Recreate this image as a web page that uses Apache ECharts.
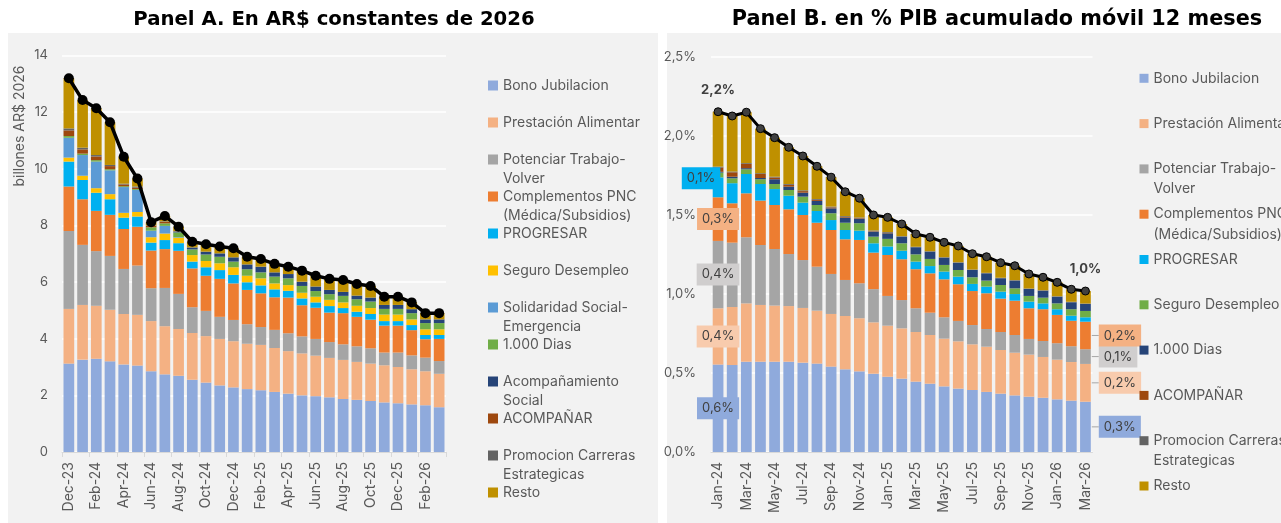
<!DOCTYPE html>
<html><head><meta charset="utf-8">
<script src="https://cdn.jsdelivr.net/npm/echarts@6/dist/echarts.min.js"></script>
<style>html,body{margin:0;padding:0;background:#fff;}#c{width:1281px;height:523px;}</style>
</head><body><div id="c"></div>
<script>
// ---------- Categories ----------
const monthsA = ['Dec-23','Jan-24','Feb-24','Mar-24','Apr-24','May-24','Jun-24','Jul-24','Aug-24','Sep-24','Oct-24','Nov-24','Dec-24','Jan-25','Feb-25','Mar-25','Apr-25','May-25','Jun-25','Jul-25','Aug-25','Sep-25','Oct-25','Nov-25','Dec-25','Jan-26','Feb-26','Mar-26'];
const monthsB = ['Jan-24','Feb-24','Mar-24','Apr-24','May-24','Jun-24','Jul-24','Aug-24','Sep-24','Oct-24','Nov-24','Dec-24','Jan-25','Feb-25','Mar-25','Apr-25','May-25','Jun-25','Jul-25','Aug-25','Sep-25','Oct-25','Nov-25','Dec-25','Jan-26','Feb-26','Mar-26'];

// ---------- Panel A (billones AR$ 2026) ----------
const bonoA   = [3.12,3.26,3.29,3.20,3.09,3.05,2.85,2.74,2.69,2.55,2.45,2.35,2.28,2.22,2.18,2.12,2.06,2.00,1.97,1.93,1.87,1.84,1.80,1.75,1.72,1.68,1.65,1.58];
const prestA  = [1.93,1.93,1.87,1.82,1.78,1.79,1.77,1.70,1.65,1.65,1.64,1.64,1.63,1.60,1.60,1.55,1.50,1.48,1.43,1.39,1.38,1.34,1.32,1.31,1.28,1.24,1.20,1.18];
const potA    = [2.75,2.12,1.93,1.90,1.59,1.74,1.16,1.35,1.24,0.91,0.89,0.78,0.75,0.69,0.63,0.64,0.63,0.60,0.59,0.56,0.55,0.55,0.54,0.45,0.51,0.49,0.48,0.45];
const compA   = [1.57,1.61,1.42,1.45,1.41,1.37,1.33,1.37,1.52,1.37,1.24,1.34,1.29,1.21,1.19,1.15,1.26,1.10,1.10,1.04,1.10,1.04,1.01,0.95,0.95,0.89,0.65,0.78];
const progA   = [0.88,0.68,0.64,0.55,0.40,0.36,0.28,0.32,0.27,0.24,0.30,0.31,0.30,0.27,0.28,0.28,0.24,0.24,0.19,0.23,0.18,0.18,0.20,0.16,0.16,0.18,0.15,0.14];
const seguroA = [0.14,0.15,0.16,0.18,0.17,0.16,0.19,0.23,0.19,0.23,0.22,0.24,0.27,0.23,0.25,0.21,0.20,0.20,0.20,0.22,0.20,0.21,0.21,0.23,0.23,0.20,0.20,0.20];
const solidA  = [0.70,0.73,0.94,0.84,0.91,0.78,0.23,0.27,0.02,0,0,0,0,0,0,0,0,0,0,0,0,0,0,0,0,0,0,0];
const diasA   = [0.06,0.05,0.05,0.04,0.03,0.03,0.12,0.09,0.17,0.20,0.23,0.23,0.20,0.23,0.21,0.24,0.24,0.24,0.20,0.20,0.23,0.23,0.23,0.20,0.20,0.22,0.22,0.22];
const acSocA  = [0,0,0,0,0,0,0,0,0.02,0.07,0.10,0.12,0.15,0.17,0.20,0.15,0.15,0.15,0.16,0.15,0.14,0.13,0.14,0.14,0.14,0.14,0.13,0.13];
const acompA  = [0.20,0.15,0.13,0.11,0.06,0.05,0.05,0.05,0.01,0,0,0,0,0,0,0,0,0,0,0,0,0,0,0,0,0,0,0];
const promoA  = [0.07,0.06,0.05,0.04,0.03,0.04,0.02,0.02,0.02,0,0,0,0,0,0,0,0,0,0,0,0,0,0,0,0,0,0,0];
const restoA  = [1.77,1.68,1.65,1.51,0.95,0.28,0.11,0.19,0.15,0.20,0.26,0.24,0.32,0.27,0.27,0.30,0.26,0.39,0.38,0.39,0.42,0.41,0.41,0.29,0.29,0.24,0.22,0.22];
const totalA  = [13.19,12.42,12.13,11.64,10.42,9.65,8.11,8.33,7.95,7.42,7.33,7.25,7.19,6.89,6.81,6.64,6.54,6.40,6.22,6.11,6.07,5.93,5.86,5.48,5.48,5.28,4.90,4.90];

// ---------- Panel B (% PIB) ----------
const bonoB   = [0.553,0.550,0.571,0.571,0.571,0.571,0.565,0.559,0.540,0.523,0.510,0.495,0.476,0.464,0.445,0.432,0.415,0.401,0.392,0.380,0.369,0.358,0.350,0.343,0.333,0.325,0.318];
const prestB  = [0.356,0.367,0.369,0.359,0.355,0.352,0.346,0.335,0.333,0.337,0.336,0.325,0.323,0.318,0.314,0.308,0.302,0.299,0.289,0.286,0.276,0.270,0.266,0.258,0.251,0.244,0.239];
const potB    = [0.426,0.407,0.418,0.379,0.358,0.329,0.303,0.278,0.253,0.228,0.221,0.210,0.188,0.179,0.150,0.141,0.135,0.129,0.122,0.112,0.114,0.112,0.099,0.101,0.104,0.100,0.093];
const compB   = [0.276,0.249,0.278,0.281,0.278,0.283,0.285,0.278,0.278,0.257,0.274,0.231,0.259,0.258,0.247,0.249,0.240,0.232,0.215,0.226,0.211,0.217,0.194,0.201,0.179,0.161,0.174];
const progB   = [0.126,0.127,0.122,0.105,0.101,0.086,0.078,0.074,0.063,0.059,0.059,0.059,0.054,0.054,0.048,0.046,0.049,0.048,0.045,0.042,0.044,0.042,0.042,0.037,0.036,0.032,0.028];
const seguroB = [0.030,0.031,0.030,0.030,0.032,0.036,0.038,0.038,0.043,0.046,0.047,0.042,0.048,0.047,0.046,0.045,0.042,0.042,0.042,0.038,0.042,0.036,0.036,0.036,0.037,0.041,0.040];
const diasB   = [0.005,0.010,0.007,0.008,0.030,0.021,0.025,0.026,0.031,0.032,0.027,0.031,0.035,0.042,0.045,0.046,0.046,0.046,0.046,0.046,0.043,0.049,0.044,0.044,0.042,0.044,0.044];
const acompB  = [0.028,0.028,0.027,0.025,0.011,0.012,0.010,0.007,0.006,0.005,0.004,0.003,0.003,0,0,0,0,0,0,0,0,0,0,0,0,0,0];
const promoB  = [0.005,0.005,0.005,0.005,0.005,0.005,0.005,0.005,0.005,0.005,0.005,0.005,0.005,0.003,0.003,0.003,0.003,0.003,0.003,0.003,0.003,0.003,0.003,0.003,0.003,0.003,0.003];
const restoB  = [0.347,0.351,0.322,0.282,0.247,0.232,0.217,0.207,0.186,0.154,0.122,0.098,0.093,0.077,0.081,0.088,0.094,0.103,0.100,0.102,0.095,0.091,0.092,0.082,0.088,0.079,0.079];
const totalB  = [2.152,2.125,2.149,2.045,1.988,1.927,1.872,1.807,1.738,1.646,1.605,1.499,1.484,1.442,1.379,1.358,1.326,1.303,1.254,1.235,1.197,1.178,1.126,1.105,1.073,1.029,1.018];

// ---------- Series definitions ----------
const seriesA = [
  ['Bono Jubilacion', bonoA, '#8FAADC'],
  ['Prestación Alimentar', prestA, '#F4B183'],
  ['Potenciar Trabajo-Volver', potA, '#A5A5A5'],
  ['Complementos PNC (Médica/Subsidios)', compA, '#ED7D31'],
  ['PROGRESAR', progA, '#00B0F0'],
  ['Seguro Desempleo', seguroA, '#FFC000'],
  ['Solidaridad Social-Emergencia', solidA, '#5B9BD5'],
  ['1.000 Dias', diasA, '#70AD47'],
  ['Acompañamiento Social', acSocA, '#264478'],
  ['ACOMPAÑAR', acompA, '#9E480E'],
  ['Promocion Carreras Estrategicas', promoA, '#636363'],
  ['Resto', restoA, '#BF9000']
];
const seriesB = [
  ['Bono Jubilacion', bonoB, '#8FAADC'],
  ['Prestación Alimentar', prestB, '#F4B183'],
  ['Potenciar Trabajo-Volver', potB, '#A5A5A5'],
  ['Complementos PNC (Médica/Subsidios)', compB, '#ED7D31'],
  ['PROGRESAR', progB, '#00B0F0'],
  ['Seguro Desempleo', seguroB, '#70AD47'],
  ['1.000 Dias', diasB, '#264478'],
  ['ACOMPAÑAR', acompB, '#9E480E'],
  ['Promocion Carreras Estrategicas', promoB, '#636363'],
  ['Resto', restoB, '#BF9000']
];
const wrapLines = {
  'Potenciar Trabajo-Volver': ['Potenciar Trabajo-', 'Volver'],
  'Complementos PNC (Médica/Subsidios)': ['Complementos PNC', '(Médica/Subsidios)'],
  'Solidaridad Social-Emergencia': ['Solidaridad Social-', 'Emergencia'],
  'Acompañamiento Social': ['Acompañamiento', 'Social'],
  'Promocion Carreras Estrategicas': ['Promocion Carreras', 'Estrategicas']
};
// label boxes for Panel B (first and last bar)
const leftBox = {'Bono Jubilacion':['#8FAADC',[0,0]], 'Prestación Alimentar':['#F8CBAD',[0,0]], 'Potenciar Trabajo-Volver':['#D0CECE',[0,0]], 'Complementos PNC (Médica/Subsidios)':['#F4B183',[0,0]], 'PROGRESAR':['#00B0F0',[-17,-9]]};
const rightBox = {'Bono Jubilacion':'#8FAADC', 'Prestación Alimentar':'#F8CBAD', 'Potenciar Trabajo-Volver':'#D0CECE', 'Complementos PNC (Médica/Subsidios)':'#F4B183'};

const FONT = 'Inter';
const TFONT = 'DejaVu Sans';
const TXT = '#595959';
const fmtPct = v => v.toFixed(1).replace('.', ',') + '%';

const series = [];
seriesA.forEach(([n, d, c]) => series.push({
  name: n, type: 'bar', stack: 'A', xAxisIndex: 0, yAxisIndex: 0, data: d,
  barCategoryGap: '22%', itemStyle: {color: c}, emphasis: {disabled: true}
}));
series.push({
  name: 'Total A', type: 'line', xAxisIndex: 0, yAxisIndex: 0, data: totalA, z: 5,
  symbol: 'circle', symbolSize: 10, showAllSymbol: true, lineStyle: {color: '#000', width: 3.5},
  itemStyle: {color: '#000'}, emphasis: {disabled: true}
});
const lastB = monthsB.length - 1;
seriesB.forEach(([n, d, c]) => {
  const data = d.map((v, i) => {
    if (i === 0 && leftBox[n]) {
      return {value: v, label: {show: true, position: 'inside', offset: leftBox[n][1],
        formatter: p => fmtPct(p.value), backgroundColor: leftBox[n][0], padding: [5, 5, 4, 5],
        color: '#404040', fontSize: 13, fontFamily: FONT}};
    }
    if (i === lastB && rightBox[n]) {
      return {value: v, label: {show: true, position: 'right', distance: 1,
        formatter: p => '{ln|}{bx|' + fmtPct(p.value) + '}',
        rich: {ln: {width: 7, height: 1, backgroundColor: '#A6A6A6'},
               bx: {backgroundColor: rightBox[n], padding: [5, 5, 4, 5], color: '#404040', fontSize: 13, fontFamily: FONT}}}};
    }
    return v;
  });
  series.push({
    name: n, type: 'bar', stack: 'B', xAxisIndex: 1, yAxisIndex: 1, data: data,
    barCategoryGap: '24%', itemStyle: {color: c}, emphasis: {disabled: true}
  });
});
series.push({
  name: 'Total B', type: 'line', xAxisIndex: 1, yAxisIndex: 1, z: 5,
  data: totalB.map((v, i) => (i === 0 || i === lastB) ? {value: v, label: {show: true, position: 'top', distance: 11,
    formatter: p => fmtPct(p.value), fontWeight: 'bold', fontSize: 13, color: '#404040', fontFamily: FONT}} : v),
  symbol: 'circle', symbolSize: 8, showAllSymbol: true, lineStyle: {color: '#000', width: 3},
  itemStyle: {color: '#404040', borderColor: '#000', borderWidth: 1}, emphasis: {disabled: true}
});

function makeLegends(list, iconX, y0, step, lh, size) {
  return list.map(([n, d, c], i) => {
    const lines = wrapLines[n] || [n];
    const two = lines.length > 1;
    const yc = y0 + i * step;
    return {
      show: true, orient: 'vertical', left: iconX, top: two ? yc - 1.5 * lh : yc - lh / 2,
      padding: 0, itemGap: 0, itemWidth: size, itemHeight: size, icon: 'rect', itemTextGap: 4,
      selectedMode: false,
      data: [{name: n, itemStyle: {color: c}}],
      formatter: () => two ? '\n' + lines.join('\n') : lines[0],
      textStyle: {color: TXT, fontSize: 14, fontFamily: FONT, lineHeight: lh}
    };
  });
}

const xAxisCommon = {
  type: 'category',
  axisLine: {lineStyle: {color: '#D9D9D9', width: 1}},
  axisLabel: {interval: 1, rotate: 90, color: TXT, fontSize: 14, fontFamily: FONT, margin: 10, hideOverlap: false}
};

const option = {
  animation: false,
  graphic: [
    {type: 'rect', shape: {x: 8, y: 33, width: 650, height: 495}, style: {fill: '#F2F2F2'}, z: -10, silent: true},
    {type: 'rect', shape: {x: 667, y: 33, width: 620, height: 495}, style: {fill: '#F2F2F2'}, z: -10, silent: true},
    {type: 'text', x: 334, y: 20, z: 10, style: {text: 'Panel A. En AR$ constantes de 2026', align: 'center', verticalAlign: 'middle', fontSize: 19.7, fontWeight: 'bold', fontFamily: TFONT, fill: '#000'}},
    {type: 'text', x: 997, y: 20, z: 10, style: {text: 'Panel B. en % PIB acumulado móvil 12 meses', align: 'center', verticalAlign: 'middle', fontSize: 20.8, fontWeight: 'bold', fontFamily: TFONT, fill: '#000'}},
    {type: 'text', x: 20, y: 126, rotation: Math.PI / 2, z: 10, style: {text: 'billones AR$ 2026', align: 'center', verticalAlign: 'middle', fontSize: 14, fontFamily: FONT, fill: TXT}}
  ],
  grid: [
    {left: 62, width: 384, top: 55.3, bottom: 71, containLabel: false, outerBoundsMode: 'none'},
    {left: 711, width: 381.5, top: 56.7, bottom: 71, containLabel: false, outerBoundsMode: 'none'}
  ],
  xAxis: [
    Object.assign({}, xAxisCommon, {gridIndex: 0, data: monthsA,
      axisTick: {show: true, interval: 1, length: 5, lineStyle: {color: '#D9D9D9'}}}),
    Object.assign({}, xAxisCommon, {gridIndex: 1, data: monthsB, axisTick: {show: false}})
  ],
  yAxis: [
    {type: 'value', gridIndex: 0, min: 0, max: 14, interval: 2,
      axisLine: {show: false}, axisTick: {show: false},
      splitLine: {lineStyle: {color: '#FFFFFF', width: 1.5}},
      axisLabel: {color: TXT, fontSize: 13, fontFamily: FONT, margin: 14}},
    {type: 'value', gridIndex: 1, min: 0, max: 2.5, interval: 0.5,
      axisLine: {show: false}, axisTick: {show: false},
      splitLine: {lineStyle: {color: '#FFFFFF', width: 1.5}},
      axisLabel: {color: TXT, fontSize: 13, fontFamily: FONT, margin: 15, formatter: v => fmtPct(v)}}
  ],
  legend: makeLegends(seriesA, 488, 85.5, 37.0, 19.7, 10).concat(makeLegends(seriesB, 1139.5, 78.3, 45.3, 20.3, 9)),
  series: series
};
const chart = echarts.init(document.getElementById('c'), null, {renderer: 'canvas'});
chart.setOption(option);
</script>
</body></html>
